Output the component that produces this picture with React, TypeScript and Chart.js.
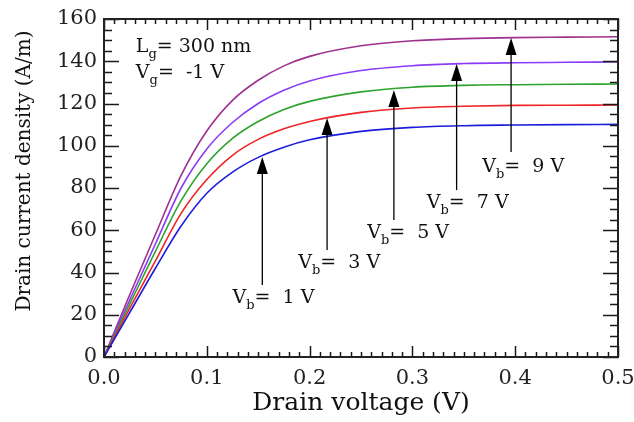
import React, { useEffect, useRef } from "react";
import { Chart, registerables } from "chart.js";

Chart.register(...registerables);

// Drain voltage (V)
const drainVoltage = [0, 0.025, 0.05, 0.075, 0.1, 0.125, 0.15, 0.175, 0.2, 0.25, 0.3, 0.35, 0.4, 0.45, 0.5];
// Drain current density (A/m) for each back-gate bias
const currentVb1 = [0, 21, 42, 62, 77.5, 87.5, 94.5, 99.3, 102.8, 106.8, 108.7, 109.5, 109.8, 110, 110.1];
const currentVb3 = [0, 23, 45.5, 68, 84, 95.5, 103, 108, 111.5, 115.8, 117.9, 118.7, 119.1, 119.2, 119.3];
const currentVb5 = [0, 25, 50, 74, 91.5, 103.5, 111.5, 117.2, 121, 125.5, 127.7, 128.6, 128.9, 129.1, 129.2];
const currentVb7 = [0, 27, 53.5, 80, 98.5, 111, 120, 126.3, 130.7, 135.6, 137.9, 138.9, 139.3, 139.5, 139.7];
const currentVb9 = [0, 29.5, 58, 86, 107, 121.5, 131, 137.8, 142.3, 147.3, 149.7, 150.7, 151.2, 151.4, 151.6];

const seriesValues = [currentVb1, currentVb3, currentVb5, currentVb7, currentVb9];
const seriesBias = ["1", "3", "5", "7", "9"];
const seriesColors = ["#1c1cdc", "#f02424", "#2ea22e", "#8a3cf6", "#a0308f"];

// Arrow annotations (data coordinates)
const arrowX = [0.154, 0.217, 0.282, 0.343, 0.396];
const arrowTipY = [94.7, 113.1, 126.4, 138.7, 151];
const arrowTailY = [34.1, 50.7, 64.9, 79, 97];
const labelX = [0.125, 0.189, 0.256, 0.314, 0.368];
const labelY = [25.6, 42.1, 56.3, 70.5, 87.6];

const yTitle = "Drain current density (A/m)";
const xTitle = "Drain voltage (V)";

const FONT = "'DejaVu Serif', 'Liberation Serif', serif";

function drawParts(ctx: CanvasRenderingContext2D, x: number, y: number, parts: [string, boolean][], size: number) {
  let cx = x;
  for (const [text, sub] of parts) {
    const s = sub ? Math.round(size * 0.68) : size;
    ctx.font = `${s}px ${FONT}`;
    ctx.fillText(text, cx, sub ? y + size * 0.32 : y);
    cx += ctx.measureText(text).width;
  }
}

const decorPlugin = {
  id: "decor",
  afterDraw(chart: any) {
    const ctx: CanvasRenderingContext2D = chart.ctx;
    const { left, right, top, bottom } = chart.chartArea;
    const xs = chart.scales.x;
    const ys = chart.scales.y;
    ctx.save();
    ctx.strokeStyle = "#1a1a1a";
    ctx.lineWidth = 1.5;
    // x ticks (bottom & top, inward)
    for (let i = 0; i <= 50; i++) {
      const v = i / 100;
      const px = Math.round(xs.getPixelForValue(v)) + 0.5;
      const len = i % 10 === 0 ? 11 : 5;
      ctx.beginPath();
      ctx.moveTo(px, bottom);
      ctx.lineTo(px, bottom - len);
      ctx.moveTo(px, top);
      ctx.lineTo(px, top + len);
      ctx.stroke();
    }
    // y ticks (left & right, inward)
    for (let i = 0; i <= 32; i++) {
      const v = i * 5;
      const py = Math.round(ys.getPixelForValue(v)) + 0.5;
      const len = i % 4 === 0 ? 15 : 8;
      ctx.beginPath();
      ctx.moveTo(left, py);
      ctx.lineTo(left + len, py);
      ctx.moveTo(right, py);
      ctx.lineTo(right - len, py);
      ctx.stroke();
    }
    // frame
    ctx.lineWidth = 2;
    ctx.strokeStyle = "#222";
    ctx.strokeRect(left, top, right - left, bottom - top);

    // arrows
    ctx.fillStyle = "#000";
    ctx.strokeStyle = "#000";
    ctx.lineWidth = 1.3;
    for (let i = 0; i < arrowX.length; i++) {
      const ax = xs.getPixelForValue(arrowX[i]);
      const tipY = ys.getPixelForValue(arrowTipY[i]);
      const tailY = ys.getPixelForValue(arrowTailY[i]);
      const headLen = 17;
      const headW = 5.5;
      ctx.beginPath();
      ctx.moveTo(ax, tailY);
      ctx.lineTo(ax, tipY + headLen - 2);
      ctx.stroke();
      ctx.beginPath();
      ctx.moveTo(ax, tipY);
      ctx.lineTo(ax - headW, tipY + headLen);
      ctx.lineTo(ax + headW, tipY + headLen);
      ctx.closePath();
      ctx.fill();
    }
    // labels
    ctx.fillStyle = "#111";
    ctx.textBaseline = "alphabetic";
    ctx.textAlign = "left";
    for (let i = 0; i < labelX.length; i++) {
      const lx = xs.getPixelForValue(labelX[i]);
      const ly = ys.getPixelForValue(labelY[i]);
      drawParts(ctx, lx, ly, [["V", false], ["b", true], ["=  " + seriesBias[i] + " V", false]], 19);
    }
    // top-left annotation
    const tx = xs.getPixelForValue(0.031);
    drawParts(ctx, tx, ys.getPixelForValue(144.4), [["L", false], ["g", true], ["= 300 nm", false]], 19);
    drawParts(ctx, tx, ys.getPixelForValue(132), [["V", false], ["g", true], ["=  -1 V", false]], 19);

    // y axis title
    ctx.save();
    ctx.translate(25, (top + bottom) / 2 - 17);
    ctx.rotate(-Math.PI / 2);
    ctx.font = `20px ${FONT}`;
    ctx.textAlign = "center";
    ctx.textBaseline = "middle";
    ctx.fillStyle = "#111";
    ctx.fillText(yTitle, 0, 0);
    ctx.restore();
    ctx.restore();
  },
};

export default function App() {
  const canvasRef = useRef<HTMLCanvasElement | null>(null);

  useEffect(() => {
    const canvas = canvasRef.current;
    if (!canvas) return;
    const chart = new Chart(canvas, {
      type: "line",
      data: {
        datasets: seriesValues.map((vals, i) => ({
          label: `Vb = ${seriesBias[i]} V`,
          data: drainVoltage.map((x, j) => ({ x, y: vals[j] })),
          borderColor: seriesColors[i],
          backgroundColor: seriesColors[i],
          borderWidth: 1.6,
          pointRadius: 0,
          cubicInterpolationMode: "monotone" as const,
          fill: false,
        })),
      },
      options: {
        animation: false,
        responsive: true,
        maintainAspectRatio: false,
        layout: { padding: { top: 19, right: 16, bottom: 0, left: 0 } },
        plugins: { legend: { display: false }, tooltip: { enabled: false } },
        scales: {
          x: {
            type: "linear",
            min: 0,
            max: 0.5,
            grid: { display: false, drawTicks: false },
            border: { display: false },
            ticks: {
              stepSize: 0.1,
              padding: 9,
              color: "#222",
              font: { family: FONT, size: 21 },
              callback: (v: any) => Number(v).toFixed(1),
              maxRotation: 0,
            },
            title: {
              display: true,
              text: xTitle,
              color: "#111",
              font: { family: FONT, size: 25 },
              padding: { top: 0, bottom: 4 },
            },
            afterFit: (s: any) => {
              s.height = 65;
              s.paddingLeft = 0;
              s.paddingRight = 0;
            },
          },
          y: {
            type: "linear",
            min: 0,
            max: 160,
            grid: { display: false, drawTicks: false },
            border: { display: false },
            ticks: {
              stepSize: 20,
              padding: 7,
              color: "#222",
              font: { family: FONT, size: 21 },
            },
            afterFit: (s: any) => {
              s.width = 104;
              s.paddingTop = 0;
              s.paddingBottom = 0;
            },
          },
        },
      },
      plugins: [decorPlugin],
    });
    return () => chart.destroy();
  }, []);

  return (
    <div style={{ position: "fixed", left: 0, top: 0, width: 634, height: 422, background: "#fff" }}>
      <canvas ref={canvasRef} style={{ display: "block" }} />
    </div>
  );
}
